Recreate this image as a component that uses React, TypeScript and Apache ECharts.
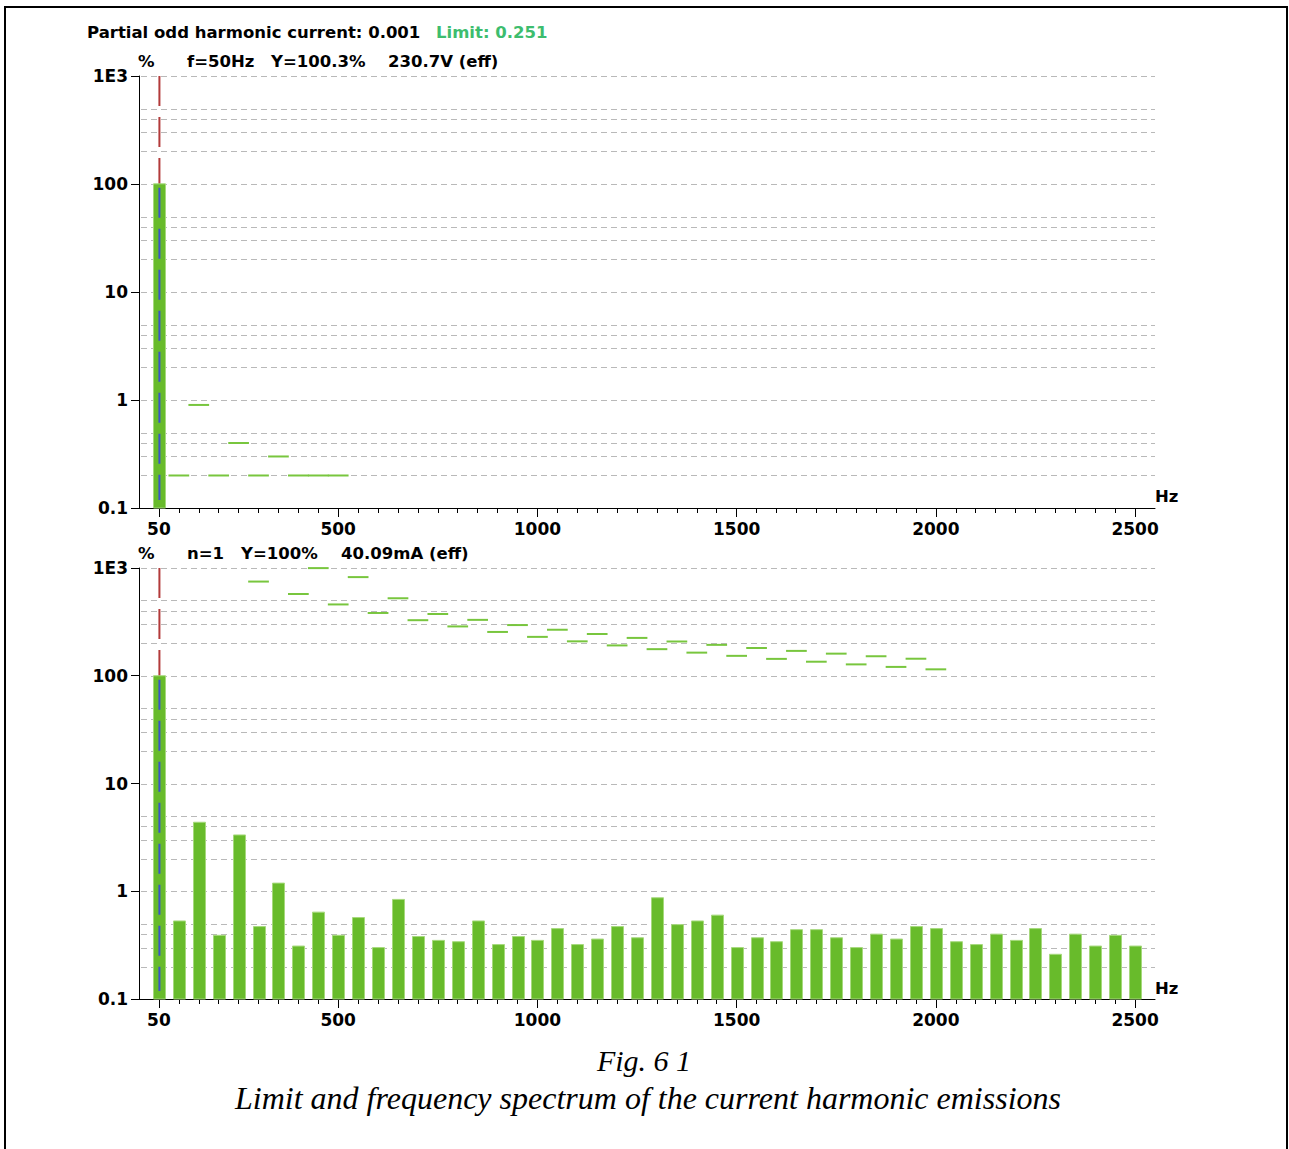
import React, { useEffect, useRef } from 'react';
import * as echarts from 'echarts';

// ---------- data ----------
const FUNDAMENTAL_HZ = 50;
const tickFreqs = Array.from({ length: 50 }, (_, i) => (i + 1) * 50);
const majorTickFreqs = [50, 500, 1000, 1500, 2000, 2500];
const gridValues = [0.2, 0.3, 0.4, 0.5, 1, 2, 3, 4, 5, 10, 20, 30, 40, 50, 100, 200, 300, 400, 500, 1000];

// top chart (voltage)
const voltageBarValues = [100.3]; // harmonic 1 only (others below 0.1 %)
const voltageLimitOrders = [2, 3, 4, 5, 6, 7, 8, 9, 10];
const voltageLimitValues = [0.2, 0.9, 0.2, 0.4, 0.2, 0.3, 0.2, 0.2, 0.2];

// bottom chart (current), harmonic orders 1..50
const currentBarValues = [
  100, 0.53, 4.37, 0.39, 3.33, 0.47, 1.19, 0.31, 0.64, 0.39,
  0.57, 0.30, 0.84, 0.38, 0.35, 0.34, 0.53, 0.32, 0.38, 0.35,
  0.45, 0.32, 0.36, 0.47, 0.37, 0.87, 0.49, 0.53, 0.60, 0.30,
  0.37, 0.34, 0.44, 0.44, 0.37, 0.30, 0.40, 0.36, 0.47, 0.45,
  0.34, 0.32, 0.40, 0.35, 0.45, 0.26, 0.40, 0.31, 0.39, 0.31,
];
const currentLimitOrders = [6, 8, 9, 10, 11, 12, 13, 14, 15, 16, 17, 18, 19, 20, 21, 22, 23, 24, 25, 26, 27, 28, 29, 30, 31, 32, 33, 34, 35, 36, 37, 38, 39, 40];
const currentLimitValues = [
  748.3, 573.7, 997.8, 459.0, 823.2, 382.5, 523.8, 327.8, 374.2, 286.9,
  330.1, 255.0, 295.4, 229.5, 267.3, 208.6, 244.0, 191.2, 224.5, 176.5,
  207.9, 163.9, 193.5, 153.0, 181.0, 143.4, 170.1, 135.0, 160.4, 127.5,
  151.7, 120.8, 143.9, 114.7,
];

// ---------- styles ----------
const LABEL_FONT = 'DejaVu Sans';
const BAR_FILL = '#68bb2b';
const BAR_STROKE = '#a6d97c';
const LIMIT_COLOR = '#78c63e';
const GRID_COLOR = '#b9b9b9';
const RED = '#b23a3a';
const BLUE = '#3a55c8';
const X_MIN = 0;
const X_MAX = 2550;
const Y_MIN = 0.1;
const Y_MAX = 1000;

function yLabel(v: number) {
  const e = Math.round(Math.log10(v));
  return ({ '-1': '0.1', '0': '1', '1': '10', '2': '100', '3': '1E3' } as any)[String(e)] ?? '';
}

function makeAxes(gridIndex: number) {
  const xMain = {
    type: 'value', gridIndex, min: X_MIN, max: X_MAX, position: 'bottom',
    axisLine: { show: true, onZero: false, lineStyle: { color: '#000', width: 1 } },
    axisTick: { show: true, length: 5, customValues: tickFreqs, lineStyle: { color: '#000', width: 1 } },
    axisLabel: {
      show: true, customValues: majorTickFreqs, margin: 12,
      formatter: (v: number) => String(v),
      color: '#000', fontFamily: LABEL_FONT, fontWeight: 'bold', fontSize: 17,
    },
    splitLine: { show: false },
  };
  const xMajor = {
    type: 'value', gridIndex, min: X_MIN, max: X_MAX, position: 'bottom', offset: 0,
    axisLine: { show: false, onZero: false },
    axisTick: { show: true, length: 9, customValues: majorTickFreqs, lineStyle: { color: '#000', width: 1 } },
    axisLabel: { show: false },
    splitLine: { show: false },
  };
  const y = {
    type: 'log', logBase: 10, gridIndex, min: Y_MIN, max: Y_MAX, splitNumber: 4,
    axisLine: { show: true, onZero: false, lineStyle: { color: '#000', width: 1 } },
    axisTick: { show: true, length: 8, lineStyle: { color: '#000', width: 1 } },
    axisLabel: {
      margin: 11, formatter: yLabel,
      color: '#000', fontFamily: LABEL_FONT, fontWeight: 'bold', fontSize: 17,
    },
    splitLine: { show: false },
    minorTick: { show: false },
  };
  return { xMain, xMajor, y };
}

function makeSeries(gridIndex: number, barValues: number[], limitOrders: number[], limitValues: number[]) {
  const xAxisIndex = gridIndex * 2;
  const yAxisIndex = gridIndex;
  const barData = barValues.map((v, i) => [(i + 1) * FUNDAMENTAL_HZ, v]);
  const limitData = limitOrders.map((n, i) => [n * FUNDAMENTAL_HZ, limitValues[i]]);
  const gridData = gridValues.map((v) => [X_MIN, v]);
  const fundamental = barValues[0];
  return [
    {
      type: 'custom', xAxisIndex, yAxisIndex, z: 1, silent: true,
      data: gridData,
      renderItem: (params: any, api: any) => {
        const v = api.value(1);
        const a = api.coord([X_MIN, v]);
        const b = api.coord([X_MAX, v]);
        return {
          type: 'line',
          shape: { x1: a[0] + 2, y1: Math.round(a[1]) + 0.5, x2: b[0], y2: Math.round(a[1]) + 0.5 },
          style: { stroke: GRID_COLOR, lineWidth: 1, lineDash: [6, 4] },
        };
      },
    },
    {
      type: 'custom', xAxisIndex, yAxisIndex, z: 2, silent: true,
      data: [[FUNDAMENTAL_HZ, Y_MAX]],
      renderItem: (params: any, api: any) => {
        const a = api.coord([api.value(0), api.value(1)]);
        const b = api.coord([api.value(0), Y_MIN]);
        return {
          type: 'line',
          shape: { x1: a[0] + 0.5, y1: a[1], x2: b[0] + 0.5, y2: b[1] },
          style: { stroke: RED, lineWidth: 2, lineDash: [30, 11] },
        };
      },
    },
    {
      type: 'custom', xAxisIndex, yAxisIndex, z: 3, silent: true,
      data: barData,
      renderItem: (params: any, api: any) => {
        const top = api.coord([api.value(0), api.value(1)]);
        const base = api.coord([api.value(0), Y_MIN]);
        return {
          type: 'rect',
          shape: { x: Math.round(top[0]) - 5.5, y: top[1], width: 12, height: base[1] - top[1] },
          style: { fill: BAR_FILL, stroke: BAR_STROKE, lineWidth: 1 },
        };
      },
    },
    {
      type: 'custom', xAxisIndex, yAxisIndex, z: 4, silent: true,
      data: limitData,
      renderItem: (params: any, api: any) => {
        const f = api.value(0);
        const v = api.value(1);
        const a = api.coord([f - 26, v]);
        const b = api.coord([f + 26, v]);
        return {
          type: 'line',
          shape: { x1: a[0], y1: a[1], x2: b[0], y2: b[1] },
          style: { stroke: LIMIT_COLOR, lineWidth: 2 },
        };
      },
    },
    {
      type: 'custom', xAxisIndex, yAxisIndex, z: 5, silent: true,
      data: [[FUNDAMENTAL_HZ, fundamental]],
      renderItem: (params: any, api: any) => {
        const a = api.coord([api.value(0), api.value(1)]);
        const b = api.coord([api.value(0), Y_MIN]);
        return {
          type: 'line',
          shape: { x1: a[0] + 0.5, y1: a[1] + 4, x2: b[0] + 0.5, y2: b[1] - 8 },
          style: { stroke: BLUE, lineWidth: 2, lineDash: [30, 11] },
        };
      },
    },
  ];
}

function txt(text: string, x: number, y: number, extra: any = {}) {
  return {
    type: 'text', x, y, silent: true,
    style: {
      text, fill: '#000', font: `bold 16.5px "${LABEL_FONT}"`,
      textAlign: 'left', textVerticalAlign: 'middle', ...extra,
    },
  };
}

export default function App() {
  const ref = useRef<HTMLDivElement>(null);
  useEffect(() => {
    if (!ref.current) return;
    const chart = echarts.init(ref.current, null, { renderer: 'svg' });
    const a0 = makeAxes(0);
    const a1 = makeAxes(1);
    const option: any = {
      animation: false,
      backgroundColor: '#fff',
      grid: [
        { left: 139, top: 76, width: 1016, height: 432 },
        { left: 139, top: 568, width: 1016, height: 431 },
      ],
      xAxis: [a0.xMain, a0.xMajor, a1.xMain, a1.xMajor],
      yAxis: [a0.y, a1.y],
      series: [
        ...makeSeries(0, voltageBarValues, voltageLimitOrders, voltageLimitValues),
        ...makeSeries(1, currentBarValues, currentLimitOrders, currentLimitValues),
      ],
      graphic: [
        {
          type: 'rect', silent: true,
          shape: { x: 5, y: 7, width: 1282, height: 1160 },
          style: { fill: 'none', stroke: '#000', lineWidth: 2 },
        },
        txt('Partial odd harmonic current: 0.001', 87, 32),
        txt('Limit: 0.251', 436, 32, { fill: '#3dbd6e' }),
        txt('%', 138, 61),
        txt('f=50Hz', 187, 61),
        txt('Y=100.3%', 271, 61),
        txt('230.7V (eff)', 388, 61),
        txt('Hz', 1155, 496),
        txt('%', 138, 553),
        txt('n=1', 187, 553),
        txt('Y=100%', 241, 553),
        txt('40.09mA (eff)', 341, 553),
        txt('Hz', 1155, 988),
        {
          type: 'text', x: 644, y: 1060, silent: true,
          style: {
            text: 'Fig. 6 1', fill: '#000', font: 'italic 30px "Liberation Serif"',
            textAlign: 'center', textVerticalAlign: 'middle',
          },
        },
        {
          type: 'text', x: 648, y: 1098, silent: true,
          style: {
            text: 'Limit and frequency spectrum of the current harmonic emissions', fill: '#000',
            font: 'italic 32px "Liberation Serif"', textAlign: 'center', textVerticalAlign: 'middle',
          },
        },
      ],
    };
    chart.setOption(option);
    return () => chart.dispose();
  }, []);
  return (
    <div
      ref={ref}
      style={{ position: 'absolute', left: 0, top: 0, width: 1289, height: 1149, background: '#fff' }}
    />
  );
}
